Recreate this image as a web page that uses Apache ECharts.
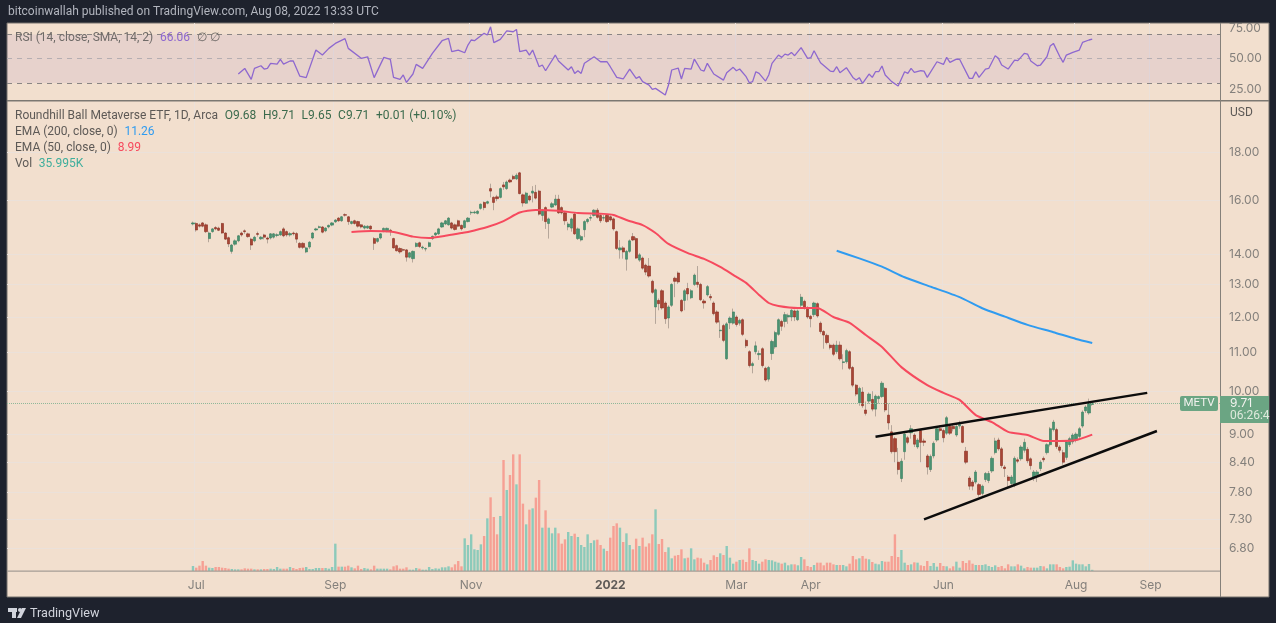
<!DOCTYPE html>
<html>
<head>
<meta charset="utf-8">
<style>html,body{margin:0;padding:0;background:#1e222d;}#main{width:1276px;height:623px;}</style>
<script src="https://cdn.jsdelivr.net/npm/echarts@6/dist/echarts.min.js"></script>
</head>
<body>
<div id="main"></div>
<script>
// bars before the first candle / after the last one, the right side is empty space of the chart
const padLeft = 57;
const barSlots = 375;

const monthBars = [1, 44, 86, 129, 168, 191, 232, 273, 296];
const monthLabels = ['Jul', 'Sep', 'Nov', '2022', 'Mar', 'Apr', 'Jun', 'Aug', 'Sep'];

const priceTicks = [6.8, 7.3, 7.8, 8.4, 9, 10, 11, 12, 13, 14, 16, 18];
const rsiTicks = [25, 50, 75];

const opens = [
  15.08,15.10,15.05,15.12,15.05,14.55,14.80,14.95,14.93,15.10,
  14.75,14.58,14.10,14.35,14.47,14.75,14.83,14.72,14.53,14.47,
  14.73,14.54,14.68,14.57,14.57,14.60,14.66,14.68,14.90,14.80,
  14.68,14.75,14.73,14.38,14.38,14.08,14.25,14.57,14.86,14.95,
  14.97,14.83,14.97,15.04,15.16,15.30,15.20,15.43,15.35,15.10,
  15.20,15.17,15.05,14.93,14.93,15.00,14.55,14.45,14.57,14.80,
  14.80,14.85,14.55,14.30,14.20,14.16,14.15,13.90,13.85,14.27,
  14.40,14.22,14.18,14.27,14.55,14.68,14.72,14.97,15.08,15.05,
  15.12,15.05,15.20,15.03,14.95,15.17,15.50,15.50,15.48,15.67,
  15.90,15.87,16.45,16.10,16.12,16.10,16.60,16.45,16.80,16.95,
  16.85,17.10,16.20,15.87,16.15,16.27,16.30,16.35,15.40,15.70,
  15.10,15.72,15.80,16.03,15.70,15.50,14.97,14.93,15.45,14.55,
  14.50,14.87,15.17,15.30,15.40,15.60,15.40,15.30,15.40,15.35,
  15.27,14.80,14.15,14.22,13.83,14.10,14.62,14.55,13.80,13.87,
  13.63,13.60,13.10,12.30,12.50,12.80,12.42,11.97,12.35,13.20,
  13.37,12.50,12.50,12.87,12.58,13.00,13.07,13.00,12.48,12.67,
  12.62,12.42,12.15,11.60,11.75,10.83,11.83,11.82,12.00,11.82,
  11.92,11.33,11.02,10.65,11.02,10.94,11.10,10.58,10.30,10.97,
  11.15,11.50,11.87,11.87,12.00,12.00,12.18,11.92,12.35,12.47,
  12.27,12.02,12.07,12.40,11.82,11.58,11.47,11.20,11.20,11.02,
  11.20,10.73,10.75,11.02,10.60,10.15,9.72,9.98,9.55,9.76,
  9.80,9.57,9.82,9.87,10.07,9.43,9.05,8.90,8.40,8.07,
  8.62,8.92,9.03,8.98,8.72,9.08,8.85,8.53,8.25,8.53,
  8.87,9.12,9.08,9.02,9.17,9.17,8.98,9.18,9.17,8.63,
  8.08,8.00,8.00,7.95,7.78,8.05,8.03,8.22,8.60,8.87,
  8.68,8.30,8.10,7.97,7.95,8.45,8.47,8.65,8.67,8.47,
  8.10,8.15,8.27,8.48,8.60,8.77,9.10,9.10,8.72,8.60,
  8.50,8.77,8.83,8.87,8.95,9.18,9.53,9.48,9.68
];
const closes = [
  15.12,14.86,15.00,15.00,14.80,14.75,14.90,14.90,14.85,14.75,
  14.53,14.36,14.32,14.47,14.65,14.68,14.80,14.62,14.32,14.60,
  14.70,14.60,14.60,14.53,14.72,14.72,14.69,14.80,14.65,14.68,
  14.73,14.72,14.53,14.24,14.24,14.22,14.42,14.75,14.90,14.98,
  14.78,14.93,15.03,15.12,15.23,15.20,15.35,15.41,15.17,15.17,
  15.10,15.00,14.97,15.00,15.00,14.90,14.38,14.55,14.72,14.92,
  14.92,14.80,14.22,14.12,14.08,14.14,13.90,14.05,14.10,14.38,
  14.27,14.25,14.20,14.40,14.63,14.75,14.90,15.12,15.20,15.30,
  14.93,14.88,15.00,14.90,15.20,15.30,15.52,15.53,15.56,15.83,
  15.70,15.93,16.35,15.90,16.05,16.45,16.52,16.72,16.72,16.85,
  17.00,16.25,15.88,16.27,16.00,16.35,16.07,15.45,15.60,15.17,
  15.27,15.85,16.03,15.50,15.50,15.20,15.08,15.27,14.72,14.90,
  14.62,15.17,15.25,15.32,15.60,15.33,15.20,15.32,15.17,15.23,
  14.90,14.20,14.22,14.08,14.10,14.47,14.50,13.87,13.98,13.53,
  13.40,13.27,12.75,12.83,12.40,12.27,11.95,12.30,13.00,13.10,
  13.08,12.18,12.80,12.70,12.80,13.30,13.00,12.52,12.42,12.93,
  12.58,12.10,11.85,11.62,11.33,11.80,11.97,12.15,11.78,11.90,
  11.50,11.18,10.65,10.70,11.18,10.97,10.65,10.28,10.60,11.30,
  11.55,11.92,11.73,12.07,12.05,12.20,12.00,12.18,12.60,12.27,
  12.00,11.95,12.42,12.03,11.58,11.48,11.27,11.13,10.95,11.20,
  10.83,10.75,11.05,10.58,10.15,9.93,10.07,9.65,9.47,9.93,
  9.57,9.88,9.87,10.20,9.55,9.25,8.62,8.62,8.25,8.42,
  9.00,8.82,9.12,8.78,8.87,8.82,8.82,8.30,8.52,8.80,
  9.12,9.08,8.92,9.37,9.02,9.12,9.17,9.22,8.82,8.40,
  7.92,7.92,8.20,7.76,7.92,8.17,8.17,8.48,8.85,8.68,
  8.33,8.27,8.03,8.10,8.48,8.42,8.72,8.82,8.43,8.33,
  8.20,8.20,8.40,8.45,8.77,9.12,9.27,8.73,8.65,8.40,
  8.83,8.90,8.98,9.00,9.12,9.50,9.62,9.72,9.71
];
const lows = [
  15.03,14.80,14.95,14.96,14.75,14.42,14.76,14.85,14.82,14.72,
  14.50,14.25,14.02,14.30,14.42,14.62,14.72,14.58,14.15,14.42,
  14.62,14.50,14.52,14.38,14.52,14.55,14.60,14.65,14.60,14.62,
  14.62,14.66,14.40,14.20,14.18,14.04,14.18,14.52,14.82,14.92,
  14.74,14.78,14.92,15.00,15.12,15.16,15.16,15.36,15.05,15.06,
  15.06,14.95,14.92,14.88,14.90,14.86,14.15,14.40,14.52,14.78,
  14.78,14.65,14.20,14.10,14.02,14.10,13.75,13.86,13.72,14.24,
  14.22,14.16,14.10,14.24,14.50,14.64,14.68,14.94,15.04,15.02,
  14.88,14.84,14.96,14.84,14.92,15.14,15.42,15.46,15.44,15.62,
  15.60,15.83,16.10,15.60,15.95,16.06,16.40,16.40,16.68,16.80,
  16.80,16.22,15.74,15.84,15.94,15.90,16.02,15.40,15.20,14.90,
  14.55,15.68,15.76,15.46,15.44,15.05,14.85,14.80,14.68,14.50,
  14.45,14.60,15.10,15.20,15.36,15.28,15.12,15.20,15.12,15.18,
  14.84,14.15,13.85,13.85,13.45,14.05,14.46,13.84,13.74,13.48,
  13.30,13.22,12.70,11.80,12.20,12.22,11.80,11.67,12.30,12.60,
  13.02,12.14,12.20,12.50,12.54,12.95,12.90,12.48,12.25,12.62,
  12.50,12.05,11.80,11.40,11.28,10.80,11.65,11.78,11.72,11.75,
  11.45,11.12,10.60,10.45,10.95,10.80,10.60,10.24,10.24,10.80,
  11.10,11.46,11.60,11.70,11.80,11.88,11.88,11.88,12.28,12.22,
  11.95,11.70,12.00,11.98,11.52,11.10,11.22,11.08,10.90,10.96,
  10.78,10.55,10.70,10.54,10.10,9.88,9.65,9.60,9.42,9.70,
  9.52,9.40,9.70,9.84,9.50,9.10,8.58,8.40,8.15,8.00,
  8.45,8.78,8.90,8.72,8.68,8.40,8.74,8.15,8.20,8.48,
  8.83,9.04,8.82,8.98,8.98,9.06,8.94,9.12,8.80,8.36,
  7.85,7.84,7.96,7.72,7.74,8.00,7.98,8.18,8.56,8.64,
  8.28,8.10,7.90,7.93,7.90,8.38,8.43,8.60,8.38,8.25,
  8.02,8.00,8.22,8.40,8.56,8.73,9.06,8.68,8.60,8.35,
  8.45,8.72,8.78,8.82,8.90,9.14,9.48,9.44,9.65
];
const highs = [
  15.17,15.14,15.10,15.15,15.10,14.80,14.93,15.00,14.98,15.12,
  14.78,14.62,14.36,14.52,14.68,14.80,14.88,14.76,14.58,14.65,
  14.80,14.64,14.72,14.62,14.75,14.75,14.74,14.84,14.96,14.84,
  14.78,14.80,14.78,14.42,14.42,14.26,14.46,14.78,14.94,15.02,
  15.00,14.96,15.06,15.15,15.26,15.34,15.38,15.48,15.38,15.20,
  15.24,15.20,15.08,15.04,15.03,15.03,14.60,14.58,14.75,14.95,
  14.95,14.90,14.58,14.34,14.24,14.20,14.18,14.08,14.13,14.42,
  14.44,14.30,14.24,14.44,14.66,14.78,14.94,15.16,15.23,15.34,
  15.16,15.10,15.24,15.06,15.24,15.34,15.58,15.58,15.60,15.86,
  15.94,15.97,16.65,16.14,16.20,16.50,16.72,16.78,16.86,17.02,
  17.08,17.14,16.25,16.32,16.20,16.55,16.60,16.40,15.65,15.75,
  15.32,15.92,16.20,16.20,15.75,15.55,15.15,15.32,15.50,14.95,
  14.68,15.22,15.30,15.42,15.64,15.68,15.44,15.42,15.44,15.40,
  15.32,14.84,14.50,14.28,14.15,14.52,14.75,14.60,14.04,13.92,
  13.68,13.87,13.15,12.87,12.56,12.85,12.47,12.35,13.04,13.25,
  13.42,12.54,12.85,13.05,12.85,13.35,13.60,13.05,12.54,12.98,
  12.70,12.47,12.20,11.90,11.80,11.85,12.02,12.25,12.05,11.95,
  11.96,11.38,11.06,10.75,11.30,11.05,11.14,10.62,10.64,11.35,
  11.60,11.96,11.92,12.15,12.10,12.24,12.22,12.22,12.70,12.52,
  12.32,12.06,12.46,12.44,11.87,11.62,11.52,11.25,11.24,11.32,
  11.30,10.95,11.10,11.06,10.64,10.18,10.11,10.10,9.75,9.97,
  10.00,9.92,9.90,10.25,10.10,9.70,9.20,8.94,8.70,8.48,
  9.05,8.96,9.20,9.02,8.91,9.12,8.90,8.57,8.56,8.84,
  9.16,9.20,9.12,9.41,9.22,9.22,9.22,9.30,9.20,8.72,
  8.12,8.04,8.24,7.98,7.95,8.20,8.22,8.52,8.92,8.92,
  8.72,8.34,8.14,8.14,8.52,8.50,8.76,8.90,8.72,8.50,
  8.24,8.24,8.44,8.52,8.80,9.16,9.32,9.14,8.76,8.66,
  8.87,8.94,9.02,9.04,9.16,9.54,9.66,9.82,9.71
];
// thousands of shares
const volumes = [
  150,100,160,300,160,100,90,120,120,100,
  90,70,60,50,50,50,80,70,70,50,
  50,50,60,60,70,60,120,70,70,70,
  120,90,60,90,100,120,60,60,90,90,
  90,90,70,120,820,130,130,130,160,110,
  80,160,60,90,70,50,160,70,70,70,
  70,50,140,170,70,70,110,40,40,90,
  70,40,40,120,60,80,70,110,110,140,
  110,200,300,140,980,780,1100,650,630,800,
  1050,1580,2210,1620,1100,1650,3330,2430,2880,3500,
  2600,3500,2020,1400,1840,1880,2200,2730,1300,1820,
  1300,1130,1300,1130,820,950,1170,1050,1120,1020,
  780,720,1100,840,920,940,780,670,600,1000,
  1350,1430,1300,870,1130,780,650,970,750,1000,
  730,830,1100,1850,810,960,570,710,380,460,
  480,650,380,400,680,350,400,380,250,200,
  330,470,420,530,480,750,400,220,280,330,
  340,270,680,330,300,220,280,350,330,320,
  280,250,220,250,170,200,200,170,420,350,
  150,120,180,250,250,170,250,250,200,180,
  180,180,140,220,450,350,380,450,370,350,
  270,220,200,300,280,280,450,1100,420,630,
  250,180,200,260,250,170,150,300,150,240,
  130,240,150,140,80,140,280,100,300,240,
  320,220,180,180,180,200,150,120,170,120,
  150,80,200,140,140,200,160,80,120,100,
  100,100,150,140,80,200,200,200,120,80,
  120,130,320,220,200,200,140,210,36
];

const ema50Bars = [49,55,62,68,73,78,83,85,91,96,101,106,113,119,127,130,134,139,143,147,153,158,163,167,171,175,178,181,187,193,198,203,208,213,219,227,232,237,242,247,252,258,263,268,273,278];
const ema50Values = [14.79,14.82,14.79,14.62,14.57,14.65,14.75,14.79,14.97,15.19,15.51,15.61,15.58,15.49,15.46,15.42,15.23,15.04,14.75,14.36,14.04,13.84,13.57,13.31,13.05,12.67,12.42,12.33,12.27,12.27,12.00,11.83,11.48,11.15,10.61,10.15,9.96,9.79,9.43,9.27,9.05,8.98,8.85,8.85,8.87,8.99];

const ema200Bars = [199,206,213,220,228,237,244,251,258,266,273,278];
const ema200Values = [14.12,13.86,13.58,13.23,12.93,12.60,12.26,12.01,11.77,11.56,11.37,11.26];

const rsiBars = [14,16,18,19,21,22,23,24,26,27,28,30,31,33,35,38,40,42,44,47,48,52,54,56,59,61,62,64,65,66,68,69,71,74,77,79,80,82,84,85,86,87,90,91,92,93,95,97,99,100,101,103,104,105,107,108,109,112,113,116,117,118,119,120,121,124,126,128,129,131,133,135,137,138,139,141,142,143,146,147,148,150,151,152,154,155,157,158,159,161,164,165,167,168,169,171,172,173,174,175,177,178,179,181,182,183,184,185,186,188,190,191,192,194,197,198,199,200,202,204,205,206,207,209,210,211,212,213,214,216,218,220,221,222,223,225,226,227,230,232,233,234,236,237,240,241,242,243,245,246,248,249,250,252,254,255,257,258,259,261,262,264,265,266,268,269,270,272,274,275,277,278];
const rsiValues = [37.4,42.0,33.0,42.0,44.2,41.5,42.0,46.2,45.6,49.5,45.6,48.1,48.1,35.7,34.4,57.1,53.0,58.5,62.6,66.5,58.5,50.3,51.6,34.4,51.1,49.5,34.6,33.0,36.6,30.5,37.4,45.3,42.0,54.4,64.8,66.7,55.8,57.1,54.9,61.2,65.4,64.8,70.9,69.5,76.3,63.2,65.9,73.0,72.2,74.1,55.8,57.1,53.0,57.1,43.4,44.8,40.1,53.0,48.1,40.7,43.4,37.9,40.1,37.9,46.2,51.6,47.5,47.5,43.4,34.6,33.3,41.5,33.8,35.2,31.1,28.3,24.8,25.6,20.1,28.3,40.7,42.3,33.3,42.0,41.5,49.7,40.7,39.8,46.2,37.4,32.4,38.5,42.9,40.1,41.5,35.2,30.2,31.1,39.3,37.9,31.6,36.6,46.2,53.0,51.1,53.8,53.0,55.2,52.5,59.1,50.3,50.8,56.6,46.7,39.8,39.3,43.4,38.5,42.6,34.6,32.4,34.4,29.7,37.4,34.6,39.3,39.3,44.0,36.6,31.1,27.5,39.3,37.9,42.0,38.8,40.1,39.8,34.6,47.5,45.3,51.1,47.0,49.7,49.5,33.8,33.8,39.3,34.6,41.5,42.0,52.5,50.3,44.8,41.5,48.9,48.4,54.4,53.8,48.1,44.2,44.8,51.6,60.4,62.6,51.6,47.0,53.0,55.2,57.1,63.4,65.4,66.06];

// the two drawn trend lines
const upperTrendBars = [211, 295];
const upperTrendValues = [8.94, 9.96];
const lowerTrendBars = [226, 298];
const lowerTrendValues = [7.30, 9.07];

const lastPrice = 9.71;

const gridLine = '#ebe1da';
const axisText = '#84807c';
const axisFont = 'Inter';
const font = 'Roboto';
const legendFont = '12px ' + font;

const slot = n => n + padLeft;
const monthSlots = monthBars.map(slot);
const categories = [];
for (let i = 0; i < barSlots; i++) {
  const m = monthSlots.indexOf(i);
  categories.push(m >= 0 ? monthLabels[m] : '');
}
const isMonth = i => monthSlots.indexOf(i) >= 0;
const pairs = (bars, vals) => bars.map((b, i) => [slot(b), vals[i]]);

// nothing to draw in the empty slots on the left
const blank = new Array(padLeft).fill(['-', '-', '-', '-']);
const wickData = blank.concat(opens.map((o, i) => [o, closes[i], lows[i], highs[i]]));
const bodyData = blank.concat(opens.map((o, i) => [o, closes[i], Math.min(o, closes[i]), Math.max(o, closes[i])]));
const volumeData = volumes.map((v, i) => ({
  value: [slot(i), v],
  itemStyle: { color: closes[i] >= opens[i] ? '#8ccaba' : '#f6a094' }
}));

const chart = echarts.init(document.getElementById('main'));
chart.setOption({
  animation: false,
  backgroundColor: '#1e222d',
  textStyle: { fontFamily: axisFont },
  grid: [
    { left: 7, top: 102, width: 1213, height: 469 },
    { left: 7, top: 23, width: 1213, height: 77 }
  ],
  xAxis: [
    {
      type: 'category', gridIndex: 0, data: categories, boundaryGap: true,
      axisLine: { show: false },
      axisTick: { show: false },
      axisLabel: {
        interval: i => isMonth(i), hideOverlap: false, color: axisText, fontSize: 12, margin: 8,
        formatter: v => v === '2022' ? '{b|2022}' : v,
        rich: { b: { fontWeight: 'bold', fontSize: 12, color: '#5f5b58', fontFamily: axisFont } }
      },
      splitLine: { show: true, interval: i => isMonth(i), lineStyle: { color: gridLine, width: 1 } }
    },
    {
      type: 'category', gridIndex: 1, data: categories, boundaryGap: true,
      axisLine: { show: false }, axisTick: { show: false }, axisLabel: { show: false },
      splitLine: { show: true, interval: i => isMonth(i), lineStyle: { color: gridLine, width: 1 } }
    }
  ],
  yAxis: [
    {
      type: 'log', gridIndex: 0, position: 'right', min: 6.43, max: 20.35, logBase: 10,
      axisLine: { show: false },
      axisTick: { show: false, customValues: priceTicks },
      axisLabel: { customValues: priceTicks, color: axisText, fontSize: 12, margin: 9, formatter: v => Number(v).toFixed(2) },
      splitLine: { show: true, lineStyle: { color: gridLine, width: 1 } }
    },
    { type: 'value', gridIndex: 0, min: 0, max: 14070, show: false, splitLine: { show: false } },
    {
      type: 'value', gridIndex: 1, position: 'right', min: 16, max: 79.4,
      axisLine: { show: false },
      axisTick: { show: false, customValues: rsiTicks },
      axisLabel: { customValues: rsiTicks, color: axisText, fontSize: 12, margin: 9, formatter: v => Number(v).toFixed(2) },
      splitLine: { show: false }
    }
  ],
  series: [
    {
      name: 'Vol', type: 'bar', xAxisIndex: 0, yAxisIndex: 1, data: volumeData, barWidth: 2.4, z: 1
    },
    {
      name: 'wick', type: 'candlestick', xAxisIndex: 0, yAxisIndex: 0, data: wickData, barWidth: 1, z: 3,
      itemStyle: { color: 'rgba(120,110,102,0.5)', color0: 'rgba(120,110,102,0.5)', borderColor: 'rgba(120,110,102,0.5)', borderColor0: 'rgba(120,110,102,0.5)', borderWidth: 1 },
      markLine: {
        silent: true, symbol: 'none', label: { show: false },
        lineStyle: { color: '#8fb89a', type: 'dotted', width: 1 },
        data: [{ yAxis: lastPrice }]
      }
    },
    {
      name: 'METV', type: 'candlestick', xAxisIndex: 0, yAxisIndex: 0, data: bodyData, barWidth: 2.7, z: 4,
      itemStyle: { color: '#4a9272', color0: '#a84535', borderColor: '#35805e', borderColor0: '#8a2b1e', borderWidth: 0.6 }
    },
    {
      name: 'EMA 50', type: 'line', xAxisIndex: 0, yAxisIndex: 0, data: pairs(ema50Bars, ema50Values),
      showSymbol: false, smooth: 0.2, z: 5, lineStyle: { color: '#f64a5e', width: 2 }
    },
    {
      name: 'EMA 200', type: 'line', xAxisIndex: 0, yAxisIndex: 0, data: pairs(ema200Bars, ema200Values),
      showSymbol: false, smooth: 0.2, z: 5, lineStyle: { color: '#2f9bf0', width: 2 }
    },
    {
      name: 'upper', type: 'line', xAxisIndex: 0, yAxisIndex: 0, data: pairs(upperTrendBars, upperTrendValues),
      showSymbol: false, z: 6, lineStyle: { color: '#0c0c0c', width: 2.5 }
    },
    {
      name: 'lower', type: 'line', xAxisIndex: 0, yAxisIndex: 0, data: pairs(lowerTrendBars, lowerTrendValues),
      showSymbol: false, z: 6, lineStyle: { color: '#0c0c0c', width: 2.5 }
    },
    {
      name: 'RSI', type: 'line', xAxisIndex: 1, yAxisIndex: 2, data: pairs(rsiBars, rsiValues),
      showSymbol: false, z: 5, lineStyle: { color: '#8e68cf', width: 1.3 },
      markArea: {
        silent: true, itemStyle: { color: 'rgba(126,87,194,0.09)' },
        data: [[{ yAxis: 30 }, { yAxis: 70 }]]
      },
      markLine: {
        silent: true, symbol: 'none', label: { show: false },
        lineStyle: { color: '#8a8583', type: [5, 5], width: 1 },
        data: [{ yAxis: 70 }, { yAxis: 50, lineStyle: { color: '#b5aeb2' } }, { yAxis: 30 }]
      }
    }
  ],
  graphic: [
    // chart panel
    { type: 'rect', z: -10, silent: true, shape: { x: 7, y: 23, width: 1262, height: 574 }, style: { fill: '#f2dfce', stroke: '#75716c', lineWidth: 1 } },
    // pane separators
    { type: 'rect', z: 20, silent: true, shape: { x: 7, y: 100, width: 1262, height: 1.6 }, style: { fill: '#7c7872' } },
    { type: 'rect', z: 20, silent: true, shape: { x: 7, y: 570.5, width: 1213, height: 1.2 }, style: { fill: '#a59d95' } },
    { type: 'rect', z: 20, silent: true, shape: { x: 1220, y: 23, width: 1, height: 574 }, style: { fill: '#85807a' } },
    // header
    { type: 'text', z: 30, silent: true, x: 8, y: 6, style: { text: 'bitcoinwallah published on TradingView.com, Aug 08, 2022 13:33 UTC', fill: '#b2b5be', font: legendFont } },
    // RSI legend
    {
      type: 'text', z: 30, silent: true, x: 15, y: 32,
      style: {
        text: '{g|RSI (14, close, SMA, 14, 2)}  {p|66.06}  {g|\u2205 \u2205}',
        rich: {
          g: { fill: '#6f6b68', font: legendFont },
          p: { fill: '#8e68cf', font: legendFont }
        }
      }
    },
    // main legend
    {
      type: 'text', z: 30, silent: true, x: 15, y: 110,
      style: {
        text: '{g|Roundhill Ball Metaverse ETF, 1D, Arca}  {v|O9.68}  {v|H9.71}  {v|L9.65}  {v|C9.71}  {v|+0.01 (+0.10%)}',
        rich: {
          g: { fill: '#5d5956', font: legendFont },
          v: { fill: '#3a6a4c', font: legendFont }
        }
      }
    },
    {
      type: 'text', z: 30, silent: true, x: 15, y: 126,
      style: { text: '{g|EMA (200, close, 0)}  {b|11.26}', rich: { g: { fill: '#5d5956', font: legendFont }, b: { fill: '#2f9bf0', font: legendFont } } }
    },
    {
      type: 'text', z: 30, silent: true, x: 15, y: 142,
      style: { text: '{g|EMA (50, close, 0)}  {r|8.99}', rich: { g: { fill: '#5d5956', font: legendFont }, r: { fill: '#f64a5e', font: legendFont } } }
    },
    {
      type: 'text', z: 30, silent: true, x: 15, y: 158,
      style: { text: '{g|Vol}  {t|35.995K}', rich: { g: { fill: '#5d5956', font: legendFont }, t: { fill: '#3fae9c', font: legendFont } } }
    },
    { type: 'text', z: 30, silent: true, x: 1230, y: 107, style: { text: 'USD', fill: '#5d5956', font: legendFont } },
    // last price tags
    { type: 'rect', z: 30, silent: true, shape: { x: 1180, y: 396, width: 38, height: 15, r: 2 }, style: { fill: '#6ba583' } },
    { type: 'text', z: 31, silent: true, x: 1199, y: 403.5, style: { text: 'METV', fill: '#f2f2ee', font: '11.5px ' + font, align: 'center', verticalAlign: 'middle' } },
    { type: 'rect', z: 30, silent: true, shape: { x: 1220, y: 396, width: 49, height: 27 }, style: { fill: '#6ba583' } },
    { type: 'text', z: 31, silent: true, x: 1230, y: 403.5, style: { text: '9.71', fill: '#f2f2ee', font: '12px ' + axisFont, verticalAlign: 'middle' } },
    { type: 'text', z: 31, silent: true, x: 1230, y: 415.5, style: { text: '06:26:4', fill: '#dfe9dc', font: '12px ' + font, verticalAlign: 'middle' } },
    // TradingView mark
    { type: 'rect', z: 30, silent: true, shape: { x: 8, y: 608, width: 9, height: 4 }, style: { fill: '#d1d4dc' } },
    { type: 'rect', z: 30, silent: true, shape: { x: 12, y: 608, width: 4, height: 10 }, style: { fill: '#d1d4dc' } },
    { type: 'circle', z: 30, silent: true, shape: { cx: 20, cy: 610, r: 2 }, style: { fill: '#d1d4dc' } },
    { type: 'polygon', z: 30, silent: true, shape: { points: [[22, 608], [26, 608], [21, 618], [17, 618]] }, style: { fill: '#d1d4dc' } },
    { type: 'text', z: 30, silent: true, x: 30, y: 607, style: { text: 'TradingView', fill: '#d1d4dc', font: '12.6px ' + font } }
  ]
});
</script>
</body>
</html>
